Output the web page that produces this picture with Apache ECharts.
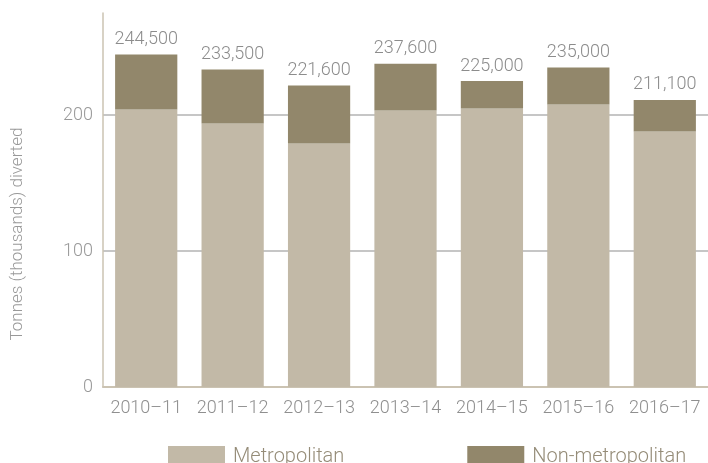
<!DOCTYPE html>
<html>
<head>
<meta charset="utf-8">
<script src="https://cdn.jsdelivr.net/npm/echarts@6/dist/echarts.min.js"></script>
<style>
  html, body { margin: 0; padding: 0; background: #fff; }
  #chart { width: 708px; height: 463px; }
</style>
</head>
<body>
<div id="chart"></div>
<script>
// 年度
const years = ['2010–11', '2011–12', '2012–13', '2013–14', '2014–15', '2015–16', '2016–17'];
// 吨（千）
const metro = [204.0, 193.8, 179.1, 203.3, 204.8, 207.7, 187.9];
const nonMetro = [40.5, 39.7, 42.5, 34.3, 20.2, 27.3, 23.2];
// 顶部标注的总量
const totals = [244500, 233500, 221600, 237600, 225000, 235000, 211100];
const yTicks = [0, 100, 200];

const font = 'Roboto';
const chart = echarts.init(document.getElementById('chart'));

chart.setOption({
  animation: false,
  textStyle: { fontFamily: font, fontWeight: 300 },
  grid: { left: 103, top: 13, width: 611, height: 374 },
  legend: {
    left: 163,
    top: 441,
    itemWidth: 57,
    itemHeight: 22,
    itemGap: 123,
    icon: 'rect',
    textStyle: { fontSize: 20, color: '#958c78', fontFamily: font, fontWeight: 300, padding: [0, 0, 0, 3] },
    data: ['Metropolitan', 'Non-metropolitan']
  },
  graphic: [{
    type: 'text',
    x: 18,
    y: 234,
    rotation: Math.PI / 2,
    style: {
      text: 'Tonnes (thousands) diverted',
      fontSize: 17,
      fontFamily: font,
      fontWeight: 300,
      fill: '#999',
      align: 'center',
      verticalAlign: 'middle'
    }
  }],
  xAxis: {
    type: 'category',
    data: years,
    axisLine: { lineStyle: { color: '#cbc3b2', width: 2 } },
    axisTick: { inside: true, length: 10, lineStyle: { color: '#cbc3b2' } },
    axisLabel: { interval: 0, fontSize: 18, color: '#8f8f8f', margin: 12, fontFamily: font, fontWeight: 300 }
  },
  yAxis: {
    type: 'value',
    min: 0,
    max: 275,
    interval: 100,
    axisLine: { show: true, lineStyle: { color: '#cbc3b2', width: 1.5 } },
    axisTick: { show: false },
    axisLabel: {
      fontSize: 18, color: '#999', margin: 10, fontFamily: font, fontWeight: 300,
      formatter: v => yTicks.includes(v) ? String(v) : ''
    },
    splitLine: {
      lineStyle: { color: ['rgba(0,0,0,0)', '#b3b3b3', '#b3b3b3', 'rgba(0,0,0,0)'], width: 1.5 }
    }
  },
  series: [
    {
      name: 'Metropolitan',
      type: 'bar',
      stack: 'total',
      barCategoryGap: '28%',
      itemStyle: { color: '#c2b9a7' },
      data: metro
    },
    {
      name: 'Non-metropolitan',
      type: 'bar',
      stack: 'total',
      barCategoryGap: '28%',
      itemStyle: { color: '#92876b' },
      label: {
        show: true,
        position: 'top',
        distance: 6,
        fontSize: 18,
        color: '#8c8c8c',
        fontFamily: font,
        fontWeight: 300,
        formatter: p => totals[p.dataIndex].toLocaleString('en-US')
      },
      data: nonMetro
    }
  ]
});
</script>
</body>
</html>
